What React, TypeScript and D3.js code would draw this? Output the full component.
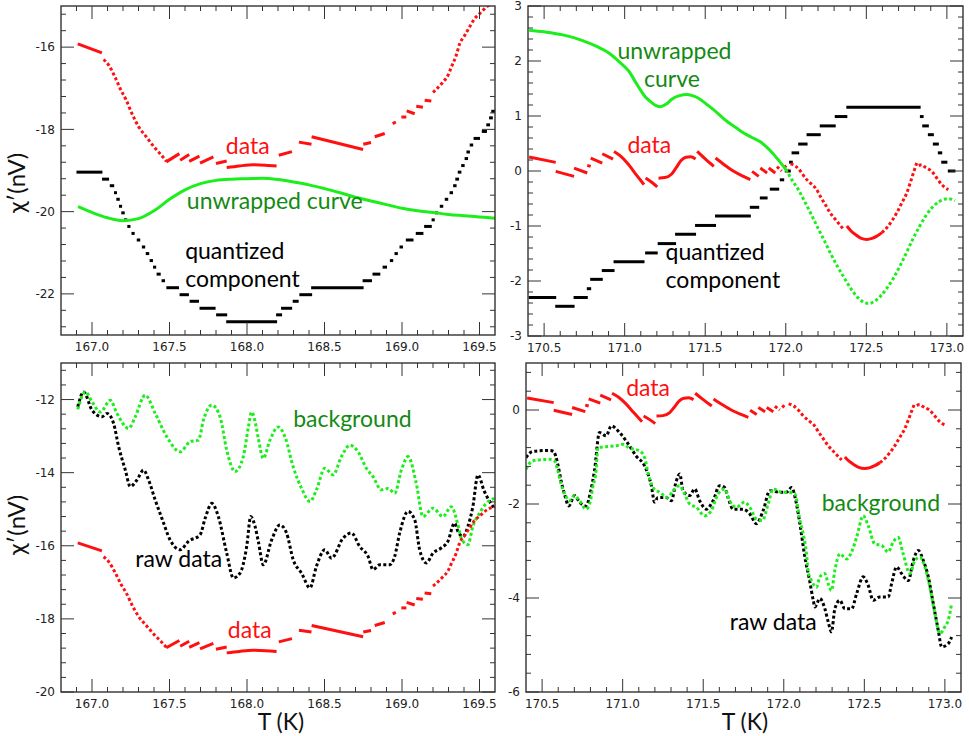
import * as d3 from "d3";

type Pt = [number, number];
type Run = Pt[];
type Step = [number, number, number]; // [tStart, tEnd, level]

// ---- "data" (red), 167-169.6 K: continuous pieces and sparse (dotted) pieces
const dataLowRuns: Run[] = [
  [[166.908, -15.92], [167.064, -16.14]],
  [[167.479, -18.79], [167.564, -18.59]],
  [[167.569, -18.75], [167.627, -18.61]],
  [[167.627, -18.78], [167.693, -18.65]],
  [[167.697, -18.82], [167.783, -18.67]],
  [[167.8, -18.83], [167.869, -18.77]],
  [[167.869, -18.93], [167.95, -18.89], [168.04, -18.86], [168.12, -18.87], [168.191, -18.89]],
  [[168.205, -18.63], [168.29, -18.54]],
  [[168.335, -18.31], [168.416, -18.36]],
  [[168.417, -18.18], [168.749, -18.49]],
  [[168.75, -18.36], [168.8, -18.32]],
  [[168.824, -18.18], [168.889, -18.1]],
  [[168.94, -17.86], [168.96, -17.82]],
  [[168.996, -17.7], [169.028, -17.7]],
  [[169.03, -17.55], [169.082, -17.62]],
  [[169.092, -17.44], [169.135, -17.46]],
  [[169.146, -17.29], [169.189, -17.31]],
];
const dataLowDots: Run[] = [
  [[167.075, -16.3], [167.11, -16.45], [167.15, -16.74], [167.187, -17.05], [167.221, -17.29], [167.258, -17.62],
   [167.3, -17.93], [167.354, -18.2], [167.401, -18.43], [167.444, -18.61], [167.48, -18.78]],
  [[169.2, -17.1], [169.22, -17.03], [169.264, -16.85], [169.296, -16.69], [169.318, -16.49], [169.35, -16.2],
   [169.372, -15.92], [169.404, -15.72], [169.436, -15.51], [169.468, -15.31], [169.5, -15.19], [169.554, -15.0],
   [169.6, -14.93]],
];

// ---- quantized component, 167-169.6 K
const quantLow: Step[] = [
  [166.903, 167.064, -19.04], [167.068, 167.107, -19.21], [167.118, 167.14, -19.37], [167.145, 167.158, -19.54],
  [167.163, 167.173, -19.7], [167.178, 167.19, -19.87], [167.195, 167.205, -20.03], [167.212, 167.222, -20.2],
  [167.232, 167.244, -20.36], [167.258, 167.272, -20.53], [167.292, 167.308, -20.69], [167.325, 167.34, -20.86],
  [167.35, 167.366, -21.02], [167.375, 167.39, -21.19], [167.398, 167.41, -21.35], [167.42, 167.44, -21.52],
  [167.452, 167.468, -21.68], [167.483, 167.558, -21.85], [167.568, 167.622, -22.02], [167.633, 167.687, -22.18],
  [167.697, 167.794, -22.35], [167.804, 167.869, -22.51], [167.869, 168.191, -22.68], [168.191, 168.223, -22.51],
  [168.223, 168.288, -22.35], [168.298, 168.33, -22.18], [168.341, 168.417, -22.02], [168.417, 168.749, -21.85],
  [168.749, 168.803, -21.68], [168.813, 168.857, -21.52], [168.878, 168.9, -21.35], [168.925, 168.94, -21.19],
  [168.955, 168.97, -21.02], [168.99, 169.0, -20.86], [169.028, 169.071, -20.69], [169.092, 169.135, -20.53],
  [169.146, 169.189, -20.36], [169.195, 169.207, -20.2], [169.216, 169.228, -20.03], [169.25, 169.26, -19.87],
  [169.282, 169.292, -19.7], [169.313, 169.323, -19.54], [169.336, 169.346, -19.37], [169.352, 169.36, -19.21],
  [169.367, 169.376, -19.04], [169.388, 169.398, -18.88], [169.41, 169.42, -18.71], [169.422, 169.432, -18.55],
  [169.443, 169.453, -18.38], [169.465, 169.5, -18.22], [169.518, 169.545, -18.05], [169.552, 169.56, -17.89],
  [169.57, 169.578, -17.72], [169.584, 169.592, -17.56],
];

// ---- unwrapped curve, 167-169.6 K
const unwrapLow: Pt[] = [
  [166.91, -19.88], [167.0, -20.02], [167.1, -20.15], [167.2, -20.22], [167.3, -20.17], [167.4, -19.98],
  [167.5, -19.7], [167.6, -19.47], [167.7, -19.32], [167.8, -19.24], [167.9, -19.21], [168.0, -19.2],
  [168.1, -19.19], [168.2, -19.22], [168.3, -19.28], [168.4, -19.35], [168.5, -19.44], [168.6, -19.54],
  [168.7, -19.65], [168.8, -19.74], [168.9, -19.83], [169.0, -19.92], [169.1, -19.98], [169.2, -20.02],
  [169.3, -20.07], [169.4, -20.1], [169.5, -20.13], [169.6, -20.16],
];

// ---- raw data and background, 167-169.6 K
const rawLow: Pt[] = [
  [166.908, -12.2], [166.946, -11.79], [167.0, -12.29], [167.064, -12.47], [167.097, -12.38], [167.139, -12.65],
  [167.172, -13.29], [167.215, -13.93], [167.247, -14.38], [167.29, -14.2], [167.333, -13.93], [167.365, -14.2],
  [167.408, -14.75], [167.451, -15.25], [167.504, -15.84], [167.569, -16.11], [167.622, -15.88], [167.697, -15.7],
  [167.73, -15.25], [167.773, -14.84], [167.815, -15.2], [167.869, -16.2], [167.912, -16.88], [167.955, -16.75],
  [167.998, -16.02], [168.024, -15.2], [168.052, -15.47], [168.073, -15.88], [168.105, -16.52], [168.159, -15.84],
  [168.212, -15.43], [168.255, -15.65], [168.298, -16.38], [168.352, -16.75], [168.406, -17.15], [168.448, -16.56],
  [168.502, -16.11], [168.545, -16.34], [168.62, -15.79], [168.674, -15.65], [168.727, -16.02], [168.781, -16.29],
  [168.813, -16.65], [168.856, -16.52], [168.921, -16.52], [168.953, -16.29], [168.985, -15.65], [169.039, -15.06],
  [169.082, -15.29], [169.114, -16.11], [169.157, -16.47], [169.2, -16.2], [169.253, -16.06], [169.296, -15.88],
  [169.339, -15.38], [169.361, -15.61], [169.393, -15.75], [169.425, -15.47], [169.457, -14.93], [169.49, -14.06],
  [169.53, -14.5], [169.6, -15.0],
];
const bgLow: Pt[] = [
  [166.908, -12.27], [166.957, -11.79], [167.0, -12.06], [167.054, -12.34], [167.118, -12.02], [167.161, -12.38],
  [167.236, -12.79], [167.279, -12.47], [167.343, -11.88], [167.408, -12.38], [167.483, -13.02], [167.569, -13.43],
  [167.633, -13.15], [167.687, -13.11], [167.719, -12.56], [167.773, -12.15], [167.826, -12.47], [167.869, -13.38],
  [167.923, -13.97], [167.976, -13.56], [168.009, -12.75], [168.03, -12.34], [168.052, -12.6], [168.073, -13.06],
  [168.105, -13.61], [168.148, -13.11], [168.202, -12.75], [168.245, -13.02], [168.298, -13.84], [168.352, -14.43],
  [168.406, -14.79], [168.448, -14.47], [168.502, -13.88], [168.556, -14.06], [168.609, -13.56], [168.663, -13.25],
  [168.717, -13.43], [168.77, -13.88], [168.813, -14.11], [168.867, -14.47], [168.91, -14.43], [168.953, -14.56],
  [168.996, -13.93], [169.039, -13.56], [169.092, -14.29], [169.135, -15.2], [169.2, -14.97], [169.264, -15.2],
  [169.318, -14.93], [169.361, -15.43], [169.382, -15.79], [169.425, -15.97], [169.457, -15.47], [169.5, -15.11],
  [169.543, -14.84], [169.6, -14.7],
];

// ---- "data" (red), 170.4-173.1 K
const dataHighRuns: Run[] = [
  [[170.407, 0.254], [170.572, 0.157]],
  [[170.572, -0.006], [170.686, -0.097]],
  [[170.686, 0.054], [170.768, -0.036]],
  [[170.768, 0.103], [170.789, 0.085]],
  [[170.789, 0.236], [170.861, 0.145]],
  [[170.861, 0.314], [170.928, 0.217]],
  [[170.934, 0.356], [170.975, 0.27], [171.016, 0.145], [171.07, -0.06], [171.12, -0.248]],
  [[171.13, -0.127], [171.17, -0.21], [171.202, -0.29]],
  [[171.21, -0.13], [171.25, -0.12], [171.29, -0.06], [171.32, 0.06], [171.35, 0.19], [171.38, 0.25], [171.41, 0.26], [171.44, 0.22]],
  [[171.45, 0.356], [171.5, 0.22], [171.553, 0.085]],
  [[171.564, 0.236], [171.62, 0.11], [171.677, -0.006], [171.73, -0.09], [171.78, -0.157]],
  [[171.791, -0.006], [171.832, -0.097]],
  [[171.842, 0.054], [171.884, -0.036]],
  [[171.894, 0.054], [171.935, -0.036]],
  [[172.379, -1.0], [172.405, -1.09], [172.431, -1.153], [172.465, -1.22], [172.503, -1.244], [172.535, -1.225],
   [172.565, -1.184], [172.597, -1.12]],
];
const dataHighDots: Run[] = [
  [[171.945, 0.08], [171.975, 0.0]],
  [[171.99, 0.1], [172.015, 0.02]],
  [[172.03, 0.13], [172.06, 0.09], [172.09, 0.0], [172.121, -0.127], [172.163, -0.248], [172.19, -0.33],
   [172.214, -0.459], [172.245, -0.61], [172.276, -0.761], [172.317, -0.912], [172.359, -1.063]],
  [[172.597, -1.12], [172.627, -1.033], [172.66, -0.9], [172.689, -0.761], [172.72, -0.58], [172.751, -0.399],
   [172.772, -0.22], [172.792, -0.036], [172.813, 0.145]],
  [[172.825, 0.1], [172.844, 0.115], [172.86, 0.08], [172.875, 0.054], [172.906, -0.006], [172.937, -0.127],
   [172.968, -0.248], [173.009, -0.338]],
];

// ---- quantized component, 170.4-173.1 K
const quantHigh: Step[] = [
  [170.407, 170.572, -2.3], [170.572, 170.686, -2.46], [170.686, 170.768, -2.3], [170.768, 170.789, -2.14],
  [170.789, 170.861, -1.97], [170.861, 170.934, -1.81], [170.934, 171.12, -1.65], [171.13, 171.202, -1.49],
  [171.208, 171.316, -1.32], [171.316, 171.44, -1.15], [171.44, 171.564, -0.99], [171.564, 171.78, -0.82],
  [171.78, 171.832, -0.66], [171.842, 171.884, -0.49], [171.904, 171.956, -0.33], [171.966, 171.987, -0.16],
  [171.997, 172.028, 0.0], [172.028, 172.036, 0.16], [172.039, 172.08, 0.33], [172.08, 172.132, 0.49],
  [172.132, 172.214, 0.66], [172.214, 172.307, 0.82], [172.307, 172.379, 0.99], [172.379, 172.834, 1.16],
  [172.84, 172.848, 0.99], [172.85, 172.885, 0.82], [172.885, 172.916, 0.66], [172.916, 172.947, 0.49],
  [172.947, 172.968, 0.33], [172.968, 173.0, 0.16], [173.009, 173.05, 0.0],
];

// ---- unwrapped curve, 170.4-173.1 K (dense part, then sparse part)
const unwrapHigh: Pt[] = [
  [170.407, 2.56], [170.5, 2.53], [170.624, 2.47], [170.73, 2.38], [170.83, 2.26], [170.9, 2.15], [170.965, 1.99],
  [171.027, 1.81], [171.065, 1.63], [171.099, 1.47], [171.13, 1.34], [171.161, 1.26], [171.195, 1.19],
  [171.223, 1.17], [171.26, 1.22], [171.295, 1.31], [171.34, 1.37], [171.388, 1.39], [171.43, 1.36],
  [171.47, 1.3], [171.51, 1.21], [171.553, 1.11], [171.6, 0.99], [171.636, 0.9], [171.69, 0.79], [171.739, 0.69],
  [171.79, 0.61], [171.842, 0.53], [171.88, 0.44], [171.92, 0.32], [171.96, 0.18], [172.0, 0.03],
];
const unwrapHighDots: Pt[] = [
  [172.0, 0.03], [172.04, -0.17], [172.08, -0.35], [172.12, -0.57], [172.16, -0.8], [172.2, -1.04], [172.24, -1.27],
  [172.28, -1.51], [172.32, -1.73], [172.36, -1.93], [172.4, -2.12], [172.44, -2.28], [172.48, -2.38],
  [172.515, -2.41], [172.55, -2.37], [172.59, -2.27], [172.63, -2.12], [172.67, -1.94], [172.71, -1.72],
  [172.75, -1.48], [172.79, -1.23], [172.83, -1.01], [172.87, -0.81], [172.91, -0.66], [172.95, -0.56],
  [172.99, -0.51], [173.02, -0.51], [173.05, -0.54],
];

// ---- raw data and background, 170.4-173.1 K
const rawHigh: Pt[] = [
  [170.4, -1.01], [170.442, -0.88], [170.546, -0.86], [170.57, -0.88], [170.597, -1.15], [170.618, -1.51],
  [170.639, -1.79], [170.666, -2.04], [170.701, -1.82], [170.732, -1.96], [170.773, -2.04], [170.8, -1.75],
  [170.825, -1.29], [170.856, -0.48], [170.898, -0.55], [170.929, -0.34], [170.981, -0.48], [171.022, -0.66],
  [171.084, -0.98], [171.136, -1.19], [171.178, -1.61], [171.198, -1.96], [171.219, -1.86], [171.271, -1.86],
  [171.302, -1.93], [171.333, -1.51], [171.354, -1.36], [171.375, -1.72], [171.416, -1.82], [171.447, -1.68],
  [171.478, -1.93], [171.52, -2.11], [171.561, -1.93], [171.602, -1.61], [171.633, -1.65], [171.654, -1.86],
  [171.685, -2.11], [171.747, -2.11], [171.789, -2.21], [171.83, -2.42], [171.872, -2.14], [171.913, -1.72],
  [171.975, -1.75], [172.017, -1.75], [172.048, -1.65], [172.079, -2.0], [172.1, -2.42], [172.131, -3.13],
  [172.162, -3.66], [172.183, -4.05], [172.193, -4.19], [172.224, -4.01], [172.255, -4.23], [172.276, -4.51],
  [172.296, -4.72], [172.317, -4.23], [172.348, -4.05], [172.379, -4.23], [172.421, -4.23], [172.452, -3.91],
  [172.493, -3.55], [172.524, -3.73], [172.555, -4.05], [172.596, -3.98], [172.648, -3.98], [172.669, -3.7],
  [172.7, -3.34], [172.731, -3.48], [172.773, -3.63], [172.804, -3.2], [172.835, -2.99], [172.866, -3.2],
  [172.897, -3.55], [172.928, -4.12], [172.959, -4.69], [172.98, -5.04], [173.021, -4.97], [173.042, -4.83],
];
const bgHigh: Pt[] = [
  [170.4, -1.26], [170.442, -1.08], [170.546, -1.05], [170.577, -1.08], [170.597, -1.29], [170.618, -1.58],
  [170.645, -1.82], [170.67, -1.93], [170.701, -1.82], [170.732, -1.93], [170.773, -2.11], [170.8, -1.93],
  [170.814, -1.65], [170.835, -1.29], [170.846, -0.8], [170.898, -0.78], [170.96, -0.76], [171.001, -0.73],
  [171.043, -0.81], [171.105, -0.87], [171.136, -1.01], [171.157, -1.33], [171.188, -1.65], [171.229, -1.75],
  [171.281, -1.86], [171.312, -1.72], [171.354, -1.61], [171.385, -1.79], [171.416, -2.0], [171.457, -2.07],
  [171.509, -2.25], [171.55, -2.14], [171.592, -1.79], [171.633, -1.68], [171.664, -1.93], [171.705, -2.07],
  [171.757, -1.96], [171.789, -2.07], [171.83, -2.32], [171.867, -2.35], [171.903, -2.0], [171.934, -1.68],
  [171.986, -1.75], [172.027, -1.75], [172.069, -1.79], [172.1, -2.35], [172.121, -2.64], [172.141, -3.06],
  [172.152, -3.45], [172.172, -3.63], [172.203, -3.77], [172.224, -3.55], [172.255, -3.48], [172.276, -3.7],
  [172.296, -3.84], [172.317, -3.41], [172.348, -3.06], [172.39, -3.17], [172.421, -3.02], [172.452, -2.71],
  [172.493, -2.25], [172.524, -2.46], [172.565, -2.85], [172.607, -2.88], [172.648, -3.02], [172.679, -2.81],
  [172.71, -2.71], [172.741, -3.06], [172.783, -3.48], [172.814, -3.2], [172.845, -3.13], [172.876, -3.34],
  [172.907, -3.77], [172.938, -4.33], [172.969, -4.76], [173.0, -4.61], [173.021, -4.47], [173.042, -4.12],
];

const RED = "#ff1010";
const LIME = "#1cee1c";
const DARK_GREEN = "#138a13";
const INK = "#000";
const AXIS = "#333";
const LABEL_FONT = "Lato, 'Open Sans', sans-serif";
const TICK_FONT = "'DejaVu Sans', Verdana, sans-serif";

type Series =
  | { kind: "line" | "dots"; runs: Run[]; color: string; width: number }
  | { kind: "steps"; steps: Step[]; color: string; width: number };

interface Note { text: string; t: number; v: number; color: string }

interface PanelSpec {
  id: string;
  box: { x: number; y: number; w: number; h: number };
  xDomain: [number, number];
  yDomain: [number, number];
  yMajor: number;
  yMinor: number;
  series: Series[];
  notes: Note[];
  yTitleAt?: number;
  xTitleAt?: number;
}

const panels: PanelSpec[] = [
  {
    id: "tl",
    box: { x: 61, y: 6, w: 434, h: 329 },
    xDomain: [166.8, 169.6],
    yDomain: [-23, -15],
    yMajor: 2,
    yMinor: 0.4,
    series: [
      { kind: "steps", steps: quantLow, color: INK, width: 3 },
      { kind: "line", runs: dataLowRuns, color: RED, width: 3 },
      { kind: "dots", runs: dataLowDots, color: RED, width: 3 },
      { kind: "line", runs: [unwrapLow], color: LIME, width: 3 },
    ],
    notes: [
      { text: "data", t: 167.863, v: -18.59, color: RED },
      { text: "unwrapped curve", t: 167.612, v: -19.94, color: DARK_GREEN },
      { text: "quantized", t: 167.601, v: -21.14, color: INK },
      { text: "component", t: 167.601, v: -21.83, color: INK },
    ],
    yTitleAt: 183,
  },
  {
    id: "tr",
    box: { x: 528, y: 6, w: 435, h: 330 },
    xDomain: [170.4, 173.1],
    yDomain: [-3, 3],
    yMajor: 1,
    yMinor: 0.2,
    series: [
      { kind: "steps", steps: quantHigh, color: INK, width: 3 },
      { kind: "line", runs: dataHighRuns, color: RED, width: 3 },
      { kind: "dots", runs: dataHighDots, color: RED, width: 3 },
      { kind: "line", runs: [unwrapHigh], color: LIME, width: 3 },
      { kind: "dots", runs: [unwrapHighDots], color: LIME, width: 3 },
    ],
    notes: [
      { text: "unwrapped", t: 170.955, v: 2.03, color: DARK_GREEN },
      { text: "curve", t: 171.12, v: 1.52, color: DARK_GREEN },
      { text: "data", t: 171.017, v: 0.33, color: RED },
      { text: "quantized", t: 171.254, v: -1.61, color: INK },
      { text: "component", t: 171.254, v: -2.12, color: INK },
    ],
  },
  {
    id: "bl",
    box: { x: 61, y: 363, w: 434, h: 329 },
    xDomain: [166.8, 169.6],
    yDomain: [-20, -11],
    yMajor: 2,
    yMinor: 0.4,
    series: [
      { kind: "dots", runs: [rawLow], color: INK, width: 3 },
      { kind: "dots", runs: [bgLow], color: LIME, width: 3 },
      { kind: "line", runs: dataLowRuns, color: RED, width: 3 },
      { kind: "dots", runs: dataLowDots, color: RED, width: 3 },
    ],
    notes: [
      { text: "background", t: 168.298, v: -12.75, color: DARK_GREEN },
      { text: "raw data", t: 167.279, v: -16.58, color: INK },
      { text: "data", t: 167.876, v: -18.52, color: RED },
    ],
    yTitleAt: 525,
    xTitleAt: 281,
  },
  {
    id: "br",
    box: { x: 526, y: 363, w: 435, h: 329 },
    xDomain: [170.4, 173.1],
    yDomain: [-6, 1],
    yMajor: 2,
    yMinor: 0.4,
    series: [
      { kind: "dots", runs: [rawHigh], color: INK, width: 3 },
      { kind: "dots", runs: [bgHigh], color: LIME, width: 3 },
      { kind: "line", runs: dataHighRuns, color: RED, width: 3 },
      { kind: "dots", runs: dataHighDots, color: RED, width: 3 },
    ],
    notes: [
      { text: "data", t: 171.022, v: 0.3, color: RED },
      { text: "background", t: 172.235, v: -2.14, color: DARK_GREEN },
      { text: "raw data", t: 171.665, v: -4.68, color: INK },
    ],
    xTitleAt: 745,
  },
];

const X_MAJOR = 0.5;
const X_MINOR = 0.1;
const MAJOR_LEN = 13;
const MINOR_LEN = 5;

// multiples of step inside [lo, hi]
function multiples(lo: number, hi: number, step: number) {
  const a = Math.ceil(lo / step - 1e-6);
  const b = Math.floor(hi / step + 1e-6);
  return d3.range(a, b + 1).map((i) => +(i * step).toFixed(6));
}

function isMultiple(v: number, step: number) {
  const r = v / step;
  return Math.abs(r - Math.round(r)) < 1e-6;
}

function Panel({ p }: { p: PanelSpec }) {
  const { box } = p;
  const x = d3.scaleLinear().domain(p.xDomain).range([box.x, box.x + box.w]);
  const y = d3.scaleLinear().domain(p.yDomain).range([box.y + box.h, box.y]);
  const line = d3
    .line<Pt>()
    .x((d) => x(d[0]))
    .y((d) => y(d[1]))
    .curve(d3.curveMonotoneX);

  const [x0, x1] = p.xDomain;
  const [y0, y1] = p.yDomain;
  const inner = (v: number, lo: number, hi: number) => v > lo + 1e-6 && v < hi - 1e-6;

  const xMinors = multiples(x0, x1, X_MINOR).filter((v) => inner(v, x0, x1) && !isMultiple(v, X_MAJOR));
  const xMajors = multiples(x0, x1, X_MAJOR);
  const yMinors = multiples(y0, y1, p.yMinor).filter((v) => inner(v, y0, y1) && !isMultiple(v, p.yMajor));
  const yMajors = multiples(y0, y1, p.yMajor);

  const top = box.y;
  const bottom = box.y + box.h;
  const left = box.x;
  const right = box.x + box.w;
  const clipId = `clip-${p.id}`;

  return (
    <g>
      <defs>
        <clipPath id={clipId}>
          <rect x={left} y={top} width={box.w} height={box.h} />
        </clipPath>
      </defs>

      <g clipPath={`url(#${clipId})`}>
        {p.series.map((s, i) => {
          if (s.kind === "steps") {
            return (
              <g key={i} stroke={s.color} strokeWidth={s.width} strokeLinecap="square">
                {s.steps.map(([t0, t1, v], j) => (
                  <line key={j} x1={x(t0) + 1} x2={x(t1) - 1} y1={y(v)} y2={y(v)} />
                ))}
              </g>
            );
          }
          return (
            <g
              key={i}
              fill="none"
              stroke={s.color}
              strokeWidth={s.width}
              strokeDasharray={s.kind === "dots" ? "3 2.4" : undefined}
              strokeLinejoin="round"
            >
              {s.runs.map((r, j) => (
                <path key={j} d={line(r) || ""} />
              ))}
            </g>
          );
        })}
      </g>

      {/* ticks on all four sides, pointing inward */}
      <g stroke={AXIS} strokeWidth={1}>
        {xMinors.map((v) => (
          <g key={`xm${v}`}>
            <line x1={x(v)} x2={x(v)} y1={bottom} y2={bottom - MINOR_LEN} />
            <line x1={x(v)} x2={x(v)} y1={top} y2={top + MINOR_LEN} />
          </g>
        ))}
        {xMajors.map((v) => (
          <g key={`xM${v}`}>
            <line x1={x(v)} x2={x(v)} y1={bottom} y2={bottom - MAJOR_LEN} />
            <line x1={x(v)} x2={x(v)} y1={top} y2={top + MAJOR_LEN} />
          </g>
        ))}
        {yMinors.map((v) => (
          <g key={`ym${v}`}>
            <line x1={left} x2={left + MINOR_LEN} y1={y(v)} y2={y(v)} />
            <line x1={right} x2={right - MINOR_LEN} y1={y(v)} y2={y(v)} />
          </g>
        ))}
        {yMajors.map((v) => (
          <g key={`yM${v}`}>
            <line x1={left} x2={left + MAJOR_LEN} y1={y(v)} y2={y(v)} />
            <line x1={right} x2={right - MAJOR_LEN} y1={y(v)} y2={y(v)} />
          </g>
        ))}
      </g>
      <rect x={left} y={top} width={box.w} height={box.h} fill="none" stroke={AXIS} strokeWidth={1.4} />

      <g fontFamily={TICK_FONT} fontSize={12} fill="#222">
        {xMajors.map((v) => (
          <text key={`xl${v}`} x={x(v)} y={bottom + 15.5} textAnchor="middle">
            {v.toFixed(1)}
          </text>
        ))}
        {yMajors.map((v) => (
          <text key={`yl${v}`} x={left - 6} y={y(v)} dy="0.36em" textAnchor="end">
            {`${Math.round(v)}`}
          </text>
        ))}
      </g>

      <g fontFamily={LABEL_FONT} fontSize={23}>
        {p.notes.map((n) => (
          <text key={n.text + n.t} x={x(n.t)} y={y(n.v)} fill={n.color}>
            {n.text}
          </text>
        ))}
      </g>

      {p.yTitleAt !== undefined && (
        <text
          transform={`translate(25,${p.yTitleAt}) rotate(-90)`}
          textAnchor="middle"
          fontFamily={LABEL_FONT}
          fontSize={24}
          fill="#111"
        >
          χ′(nV)
        </text>
      )}
      {p.xTitleAt !== undefined && (
        <text x={p.xTitleAt} y={730} textAnchor="middle" fontFamily={LABEL_FONT} fontSize={23} fill="#111">
          T (K)
        </text>
      )}
    </g>
  );
}

export default function App() {
  return (
    <svg
      width={969}
      height={736}
      viewBox="0 0 969 736"
      style={{ position: "absolute", left: 0, top: 0, background: "#fff" }}
    >
      {panels.map((p) => (
        <Panel key={p.id} p={p} />
      ))}
    </svg>
  );
}
